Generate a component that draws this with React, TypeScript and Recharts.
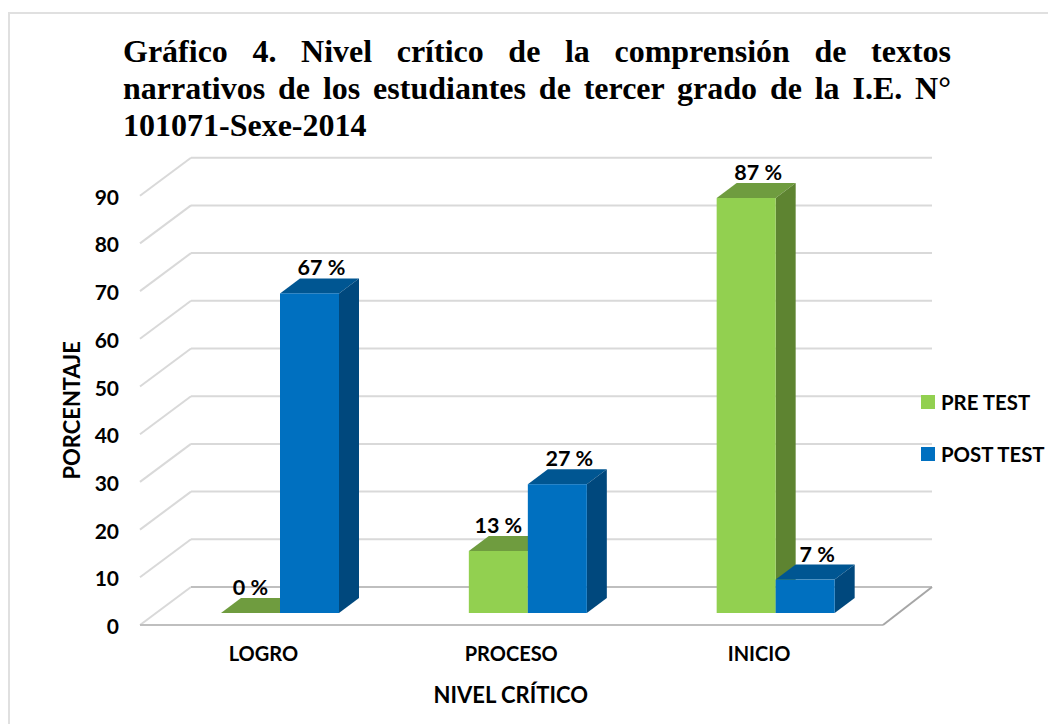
import React from 'react';
import { BarChart, Bar, XAxis, YAxis, CartesianGrid, Legend, LabelList } from 'recharts';

const titleLines = [
  'Gráfico 4. Nivel crítico de la comprensión de textos',
  'narrativos de los estudiantes de tercer grado de la I.E. N°',
  '101071-Sexe-2014',
];
const categories = ['LOGRO', 'PROCESO', 'INICIO'];
const preTest = [0, 13, 87];
const postTest = [67, 27, 7];
const yTicks = [0, 10, 20, 30, 40, 50, 60, 70, 80, 90];

const chartData = categories.map((name, i) => ({ name, pre: preTest[i], post: postTest[i] }));

const LABEL_FONT = 'Lato, sans-serif';
const GRID = '#D9D9D9';
const FLOOR = '#BFBFBF';

// bar depth of the fake 3D look
const DEPTH_X = 20;
const DEPTH_Y = 15;

// Back wall and side lines, one set per value tick
const WallLine = (props: any) => {
  const { x, width, y1 } = props;
  const isFloor = y1 >= props.y + props.height - 1;
  const backY = y1 - 26;
  const frontY = y1 + 12;
  const right = x + width;
  return (
    <g key={props.key}>
      <line x1={x - 16} y1={frontY} x2={x + 35} y2={backY} stroke={GRID} strokeWidth={2} />
      <line x1={x + 35} y1={backY} x2={right + 32.5} y2={backY} stroke={isFloor ? FLOOR : GRID} strokeWidth={2} />
      {isFloor && (
        <>
          <line x1={x - 16} y1={frontY} x2={right - 16.5} y2={frontY} stroke={FLOOR} strokeWidth={2} />
          <line x1={right - 16.5} y1={frontY} x2={right + 32.5} y2={backY} stroke="#A6A6A6" strokeWidth={2} />
        </>
      )}
    </g>
  );
};

const Bar3D = (props: any) => {
  const { x, y, width, height, fill, topFill, sideFill } = props;
  const r = x + width;
  const b = y + height;
  return (
    <g>
      <polygon
        points={`${x},${y} ${x + DEPTH_X},${y - DEPTH_Y} ${r + DEPTH_X},${y - DEPTH_Y} ${r},${y}`}
        fill={topFill}
      />
      <polygon
        points={`${r},${y} ${r + DEPTH_X},${y - DEPTH_Y} ${r + DEPTH_X},${b - DEPTH_Y} ${r},${b}`}
        fill={sideFill}
      />
      <rect x={x} y={y} width={width} height={height} fill={fill} />
    </g>
  );
};

const ValueLabel = (props: any) => {
  const { x, y, width, value, series } = props;
  // labels sit over the top face, except the short green bars
  const dx = series === 'post' || value > 50 ? 12 : 0;
  return (
    <text
      x={x + width / 2 + dx}
      y={y - 18}
      textAnchor="middle"
      fontFamily={LABEL_FONT}
      fontWeight={700}
      fontSize={21.5}
      fill="#000"
    >
      {`${value} %`}
    </text>
  );
};

const YTick = (props: any) => (
  <text
    x={props.x}
    y={props.y + 21}
    textAnchor="end"
    fontFamily={LABEL_FONT}
    fontWeight={700}
    fontSize={21}
    fill="#000"
  >
    {props.payload.value}
  </text>
);

const XTick = (props: any) => (
  <text
    x={props.x - 16.5}
    y={props.y}
    textAnchor="middle"
    fontFamily={LABEL_FONT}
    fontWeight={700}
    fontSize={20}
    fill="#000"
  >
    {props.payload.value}
  </text>
);

const LegendBox = (props: any) => (
  <div style={{ fontFamily: LABEL_FONT, fontWeight: 700, fontSize: 20.4, color: '#000' }}>
    {(props.payload || []).map((item: any) => (
      <div key={item.value} style={{ display: 'flex', alignItems: 'center', height: 52, whiteSpace: 'nowrap' }}>
        <span style={{ width: 14, height: 14, background: item.color, marginRight: 6, flex: 'none' }} />
        {item.value}
      </div>
    ))}
  </div>
);

export default function App() {
  return (
    <div style={{ position: 'absolute', left: 0, top: 0, width: 1048, height: 724, overflow: 'hidden', background: '#fff' }}>
      <div style={{ position: 'absolute', left: 8, top: 12, width: 1200, height: 900, border: '2px solid #E0E0E0' }} />
      <div
        style={{
          position: 'absolute',
          left: 123,
          top: 33,
          width: 828,
          fontFamily: '"Liberation Serif", serif',
          fontWeight: 700,
          fontSize: 32,
          lineHeight: '37px',
          color: '#000',
        }}
      >
        {titleLines.map((line, i) => (
          <div key={line} style={{ textAlign: 'justify', textAlignLast: i < 2 ? 'justify' : 'left', whiteSpace: 'nowrap' }}>
            {line}
          </div>
        ))}
      </div>
      <div style={{ position: 'absolute', left: 0, top: 0 }}>
        <BarChart
          width={1048}
          height={724}
          data={chartData}
          margin={{ top: 183.7, right: 148.5, bottom: 51, left: 0 }}
          barSize={59}
          barGap={0}
        >
          <CartesianGrid vertical={false} horizontal={WallLine} />
          <XAxis
            dataKey="name"
            axisLine={false}
            tickLine={false}
            tickSize={0}
            tickMargin={48}
            height={60}
            tick={XTick}
            interval={0}
            label={{
              value: 'NIVEL CRÍTICO',
              position: 'bottom',
              offset: 14,
              dx: -17,
              style: { fontFamily: LABEL_FONT, fontWeight: 700, fontSize: 22, fill: '#000' },
            }}
          />
          <YAxis
            type="number"
            domain={[0, 90]}
            ticks={yTicks}
            interval={0}
            width={156}
            axisLine={false}
            tickLine={false}
            tickSize={0}
            tickMargin={37}
            tick={YTick}
            label={{
              value: 'PORCENTAJE',
              angle: -90,
              position: 'insideLeft',
              offset: 72,
              dy: 12,
              style: { textAnchor: 'middle', fontFamily: LABEL_FONT, fontWeight: 700, fontSize: 22, fill: '#000' },
            }}
          />
          <Legend
            layout="vertical"
            align="center"
            verticalAlign="middle"
            itemSorter={null}
            content={LegendBox}
            wrapperStyle={{ left: 921, top: 376, width: 127 }}
          />
          <Bar
            dataKey="pre"
            name="PRE TEST"
            fill="#92D050"
            isAnimationActive={false}
            shape={(p: any) => <Bar3D {...p} topFill="#6F9C3F" sideFill="#5E8431" />}
          >
            <LabelList dataKey="pre" content={(p: any) => <ValueLabel {...p} series="pre" />} />
          </Bar>
          <Bar
            dataKey="post"
            name="POST TEST"
            fill="#0070C0"
            isAnimationActive={false}
            shape={(p: any) => <Bar3D {...p} topFill="#005692" sideFill="#00487D" />}
          >
            <LabelList dataKey="post" content={(p: any) => <ValueLabel {...p} series="post" />} />
          </Bar>
        </BarChart>
      </div>
    </div>
  );
}
